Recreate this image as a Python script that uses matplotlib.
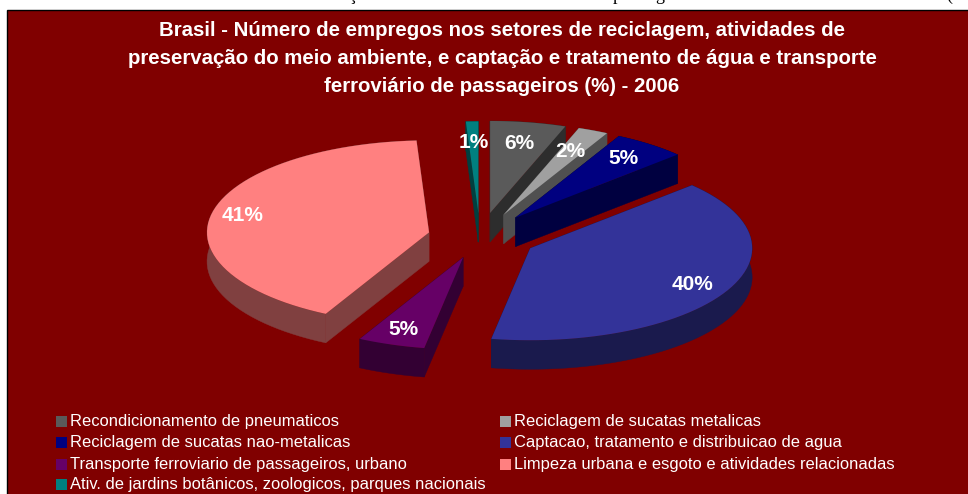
import numpy as np
import matplotlib
matplotlib.use('Agg')
import matplotlib.pyplot as plt

plt.rcParams['font.family'] = ['Liberation Sans', 'DejaVu Sans']

titulo = ['Brasil - Número de empregos nos setores de reciclagem, atividades de',
          'preservação do meio ambiente, e captação e tratamento de água e transporte',
          'ferroviário de passageiros (%) - 2006']
setores = ['Recondicionamento de pneumaticos',
           'Reciclagem de sucatas metalicas',
           'Reciclagem de sucatas nao-metalicas',
           'Captacao, tratamento e distribuicao de agua',
           'Transporte ferroviario de passageiros, urbano',
           'Limpeza urbana e esgoto e atividades relacionadas',
           'Ativ. de jardins botânicos, zoologicos, parques nacionais']
valores = [5.5, 2.2, 5.3, 39.8, 4.9, 41.4, 0.9]
cores = ['#5a5a5a', '#a0a0a0', '#000080', '#333399', '#660066', '#ff8080', '#008080']
explode = [0.265, 0.265, 0.265, 0.257, 0.235, 0.235, 0.257]
r_rotulo = [1.037, 1.01, 1.07, 1.09, 1.058, 1.094, 1.03]

W, H = 968, 494
cx, cy = 480, 237
a, b = 222, 92
prof = 29

def ponto(ang, r=1.0):
    return np.sin(ang)*a*r, -np.cos(ang)*b*r

fig = plt.figure(figsize=(W/100, H/100), dpi=100, facecolor='white')
ax = fig.add_axes([0, 0, 1, 1])
ax.set_xlim(0, W)
ax.set_ylim(H, 0)
ax.axis('off')

# resto da linha de texto do documento, cortada no topo
for x, s in [(352, 'ç'), (617, 'p'), (660, 'g'), (949, '(')]:
    ax.text(x, 0, s, family='Liberation Serif', fontsize=13, color='black', ha='center', va='baseline')

ax.add_patch(plt.Rectangle((7, 10.5), W, H, fc='#800000', ec='black', lw=1))

for i, t in enumerate(titulo):
    ax.text(502, 30+i*28.5, t, color='white', fontsize=14.65, fontweight='bold', ha='center', va='center')

lim = np.cumsum([0]+valores)/100*2*np.pi
ordem = sorted(range(len(valores)), key=lambda k: -np.cos((lim[k]+lim[k+1])/2))
for k in ordem:
    ini, fim = lim[k], lim[k+1]
    meio = (ini+fim)/2
    ox, oy = ponto(meio, explode[k])
    ox, oy = cx+ox, cy+oy
    t = np.linspace(ini, fim, 60)
    px, py = ponto(t)
    ax_arc, ay_arc = ox+px, oy+py
    sombra = tuple(c*0.5 for c in matplotlib.colors.to_rgb(cores[k]))
    # paredes laterais
    ax.fill(np.r_[ax_arc, ax_arc[::-1]], np.r_[ay_arc, ay_arc[::-1]+prof], color=sombra, lw=0.3)
    for j in (0, -1):
        ax.fill([ox, ax_arc[j], ax_arc[j], ox], [oy, ay_arc[j], ay_arc[j]+prof, oy+prof], color=sombra, lw=0.3)
    ax.fill(np.r_[ox, ax_arc], np.r_[oy, ay_arc], color=cores[k], lw=0)

    lx, ly = ponto(meio, r_rotulo[k])
    ax.text(cx+lx, cy+ly, '%.0f%%' % valores[k], color='white', fontsize=15, fontweight='bold',
            ha='center', va='center', zorder=5)

colx = [56, 500]
liny = [421.5, 442, 464, 484]
pos = [(0, 0), (1, 0), (0, 1), (1, 1), (0, 2), (1, 2), (0, 3)]
for k, (c, l) in enumerate(pos):
    ax.add_patch(plt.Rectangle((colx[c], liny[l]-5.5), 11, 11, fc=cores[k], ec='none'))
    ax.text(colx[c]+14.5, liny[l], setores[k], color='white', fontsize=11.9, va='center')

fig.savefig('out.png', dpi=100, facecolor='white')
